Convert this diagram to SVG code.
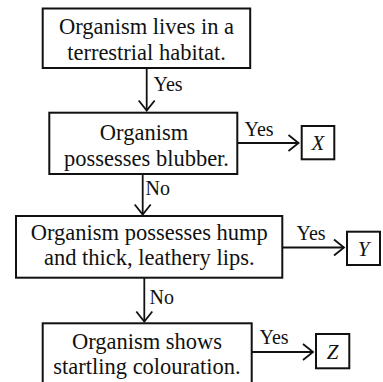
<svg xmlns="http://www.w3.org/2000/svg" width="383" height="382" viewBox="0 0 383 382">
<style>
.box{fill:#fff;stroke:#111;stroke-width:2}
.t{font-family:"Liberation Serif","Times New Roman",serif;font-size:22.5px;fill:#111;text-anchor:middle}
.lb{font-family:"Liberation Serif","Times New Roman",serif;font-size:20px;fill:#111}
.v{font-family:"Liberation Serif","Times New Roman",serif;font-size:21px;font-style:italic;fill:#111;text-anchor:middle}
.c{stroke:#111;stroke-width:1.8;fill:none}
</style>
<defs>
<marker id="ah" markerUnits="userSpaceOnUse" markerWidth="14" markerHeight="20" viewBox="-12 -10 14 20" refX="0" refY="0" orient="auto">
<path d="M-10,-8 L0,0 L-10,8" fill="none" stroke="#111" stroke-width="1.8"/>
</marker>
</defs>
<rect width="383" height="382" fill="#fff"/>
<g id="connectors">
<line class="c" x1="146.7" y1="68" x2="146.7" y2="110.5" marker-end="url(#ah)"/>
<line class="c" x1="237.5" y1="143" x2="298.5" y2="143" marker-end="url(#ah)"/>
<line class="c" x1="142.7" y1="174" x2="142.7" y2="214.5" marker-end="url(#ah)"/>
<line class="c" x1="282.5" y1="247.5" x2="344" y2="247.5" marker-end="url(#ah)"/>
<line class="c" x1="144.3" y1="278" x2="144.3" y2="321.5" marker-end="url(#ah)"/>
<line class="c" x1="252" y1="352" x2="313" y2="352" marker-end="url(#ah)"/>
<text class="lb" x="153.5" y="91">Yes</text>
<text class="lb" x="244.5" y="136">Yes</text>
<text class="lb" x="145.5" y="195">No</text>
<text class="lb" x="296.5" y="240">Yes</text>
<text class="lb" x="149.5" y="303.5">No</text>
<text class="lb" x="259.5" y="343.5">Yes</text>
</g>
<g id="n1">
<rect class="box" x="42.7" y="8.5" width="207.5" height="59.5"/>
<text class="t" x="146.5" y="34">Organism lives in a</text>
<text class="t" x="146.5" y="60">terrestrial habitat.</text>
</g>
<g id="n2">
<rect class="box" x="49.3" y="112.7" width="188" height="61.3"/>
<text class="t" x="144" y="139.5">Organism</text>
<text class="t" x="146.5" y="166">possesses blubber.</text>
</g>
<g id="n3">
<rect class="box" x="16" y="216" width="266.3" height="61.7"/>
<text class="t" x="149.3" y="240">Organism possesses hump</text>
<text class="t" x="149.3" y="265">and thick, leathery lips.</text>
</g>
<g id="n4">
<rect class="box" x="42.7" y="323.3" width="209" height="70"/>
<text class="t" x="147" y="348.5">Organism shows</text>
<text class="t" x="147" y="374">startling colouration.</text>
</g>
<g id="nX">
<rect class="box" x="301.7" y="126" width="32.6" height="33.3"/>
<text class="v" x="318" y="150">X</text>
</g>
<g id="nY">
<rect class="box" x="347" y="231.7" width="33" height="33.3"/>
<text class="v" x="363.5" y="255.5">Y</text>
</g>
<g id="nZ">
<rect class="box" x="316" y="334" width="33.3" height="34.3"/>
<text class="v" x="332.7" y="358.5">Z</text>
</g>
</svg>
